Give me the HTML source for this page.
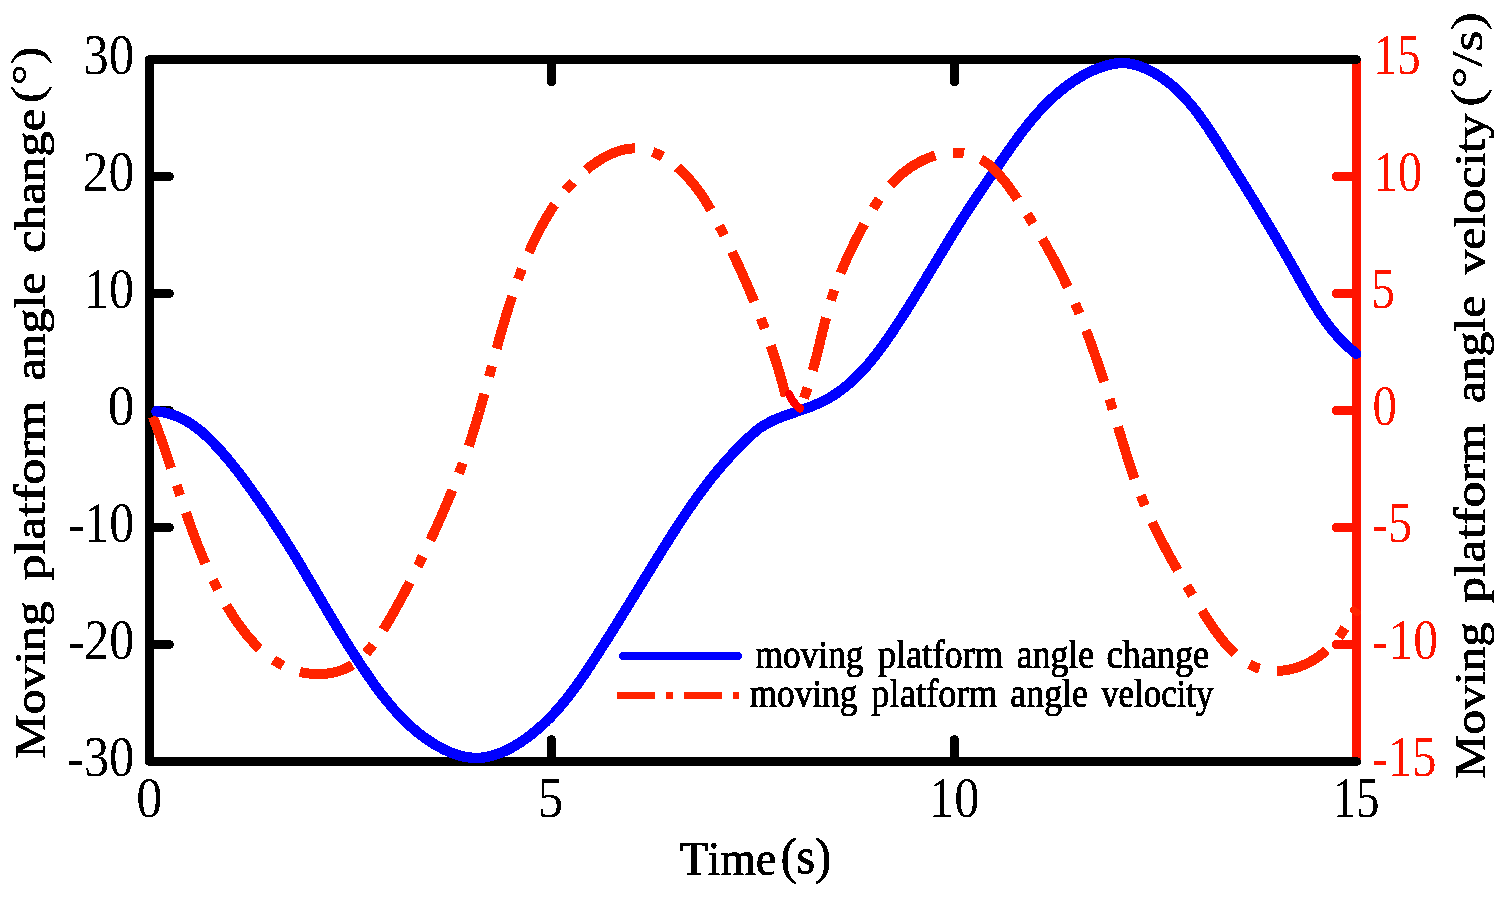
<!DOCTYPE html>
<html><head><meta charset="utf-8"><title>Moving platform angle change and angle velocity</title>
<style>
html,body{margin:0;padding:0;background:#fff;overflow:hidden;}
svg{display:block;}
text{font-family:"Liberation Serif",serif;font-kerning:none;font-variant-ligatures:none;white-space:pre;}
</style></head><body>
<svg width="1511" height="897" viewBox="0 0 1511 897">
<rect width="1511" height="897" fill="#fff"/>
<g stroke="#ff1400" stroke-width="9" stroke-linecap="round" fill="none" shape-rendering="crispEdges">
<path d="M1356.5,59.5 L1356.5,761.5" stroke-linecap="butt"/>
<path d="M1356.5,176.5 L1336.3,176.5"/>
<path d="M1356.5,293.5 L1336.3,293.5"/>
<path d="M1356.5,410.5 L1336.3,410.5"/>
<path d="M1356.5,527.5 L1336.3,527.5"/>
<path d="M1356.5,644.5 L1336.3,644.5"/>
</g>
<g stroke="#000" stroke-width="9" stroke-linecap="round" stroke-linejoin="round" fill="none" shape-rendering="crispEdges">
<path d="M1356.5,761.5 L149.5,761.5 L149.5,59.5 L1356.5,59.5"/>
<path d="M149.5,176.5 L169.5,176.5"/>
<path d="M149.5,293.5 L169.5,293.5"/>
<path d="M149.5,410.5 L169.5,410.5"/>
<path d="M149.5,527.5 L169.5,527.5"/>
<path d="M149.5,644.5 L169.5,644.5"/>
<path d="M551.5,761.5 L551.5,739.5"/>
<path d="M551.5,59.5 L551.5,84.0" stroke-linecap="butt"/>
<path d="M551.5,59.5 L551.5,83.0" stroke-width="7"/>
<path d="M954.5,761.5 L954.5,739.5"/>
<path d="M954.5,59.5 L954.5,84.0" stroke-linecap="butt"/>
<path d="M954.5,59.5 L954.5,83.0" stroke-width="7"/>
</g>
<path d="M151.5,413.5 L152.7,416.4 L153.8,419.4 L155.0,422.3 L156.1,425.3 L157.2,428.2 L158.3,431.2 L159.4,434.2 L160.5,437.2 L161.6,440.2 L162.6,443.1 L163.7,446.1 L164.7,449.2 L165.7,452.2 L166.8,455.2 L167.8,458.2 L168.8,461.2 L169.8,464.2 L170.8,467.3 L171.8,470.3 L172.8,473.3 L173.8,476.4 L174.8,479.4 L175.8,482.4 L176.8,485.5 L177.9,488.5 L178.9,491.5 L179.9,494.6 L180.9,497.6 L181.9,500.7 L182.9,503.7 L183.9,506.7 L185.0,509.8 L186.0,512.8 L187.1,515.8 L188.1,518.9 L189.2,521.9 L190.3,524.9 L191.3,527.9 L192.4,530.9 L193.6,534.0 L194.7,537.0 L195.8,540.0 L197.0,543.0 L198.1,546.0 L199.3,548.9 L200.5,551.9 L201.7,554.9 L203.0,557.9 L204.2,560.8 L205.5,563.8 L206.8,566.7 L208.1,569.7 L209.4,572.6 L210.8,575.5 L212.2,578.4 L213.6,581.3 L215.0,584.2 L216.5,587.1 L218.0,590.0 L219.5,592.8 L221.0,595.7 L222.6,598.5 L224.2,601.3 L225.8,604.2 L227.4,607.0 L229.1,609.7 L230.9,612.5 L232.6,615.3 L234.4,618.0 L236.2,620.7 L238.1,623.4 L239.9,626.0 L241.9,628.6 L243.8,631.2 L245.8,633.7 L247.9,636.2 L249.9,638.6 L252.1,641.0 L254.2,643.3 L256.4,645.6 L258.6,647.8 L260.9,649.9 L263.2,652.0 L265.6,654.0 L268.0,655.9 L270.4,657.7 L272.9,659.5 L275.5,661.2 L278.1,662.8 L280.7,664.3 L283.4,665.7 L286.1,667.0 L288.9,668.2 L291.7,669.3 L294.6,670.3 L297.5,671.2 L300.5,672.0 L303.6,672.7 L306.6,673.2 L309.7,673.6 L312.8,673.9 L316.0,674.1 L319.1,674.1 L322.3,674.0 L325.4,673.8 L328.6,673.4 L331.7,672.9 L334.8,672.2 L337.8,671.4 L340.8,670.4 L343.8,669.3 L346.6,668.0 L349.5,666.6 L352.2,664.9 L354.9,663.2 L357.5,661.2 L360.0,659.1 L362.4,656.9 L364.8,654.5 L367.1,652.0 L369.3,649.4 L371.5,646.8 L373.6,644.0 L375.7,641.3 L377.6,638.4 L379.6,635.5 L381.5,632.6 L383.3,629.7 L385.1,626.8 L386.9,623.9 L388.6,621.1 L390.3,618.2 L391.9,615.3 L393.5,612.5 L395.1,609.6 L396.7,606.8 L398.3,604.0 L399.8,601.2 L401.3,598.4 L402.8,595.6 L404.3,592.8 L405.7,590.1 L407.2,587.3 L408.6,584.6 L410.0,581.8 L411.4,579.1 L412.8,576.3 L414.2,573.5 L415.6,570.8 L416.9,568.0 L418.3,565.3 L419.7,562.5 L421.0,559.7 L422.4,556.9 L423.8,554.1 L425.1,551.3 L426.5,548.5 L427.8,545.6 L429.1,542.8 L430.5,539.9 L431.8,537.1 L433.2,534.2 L434.5,531.3 L435.8,528.4 L437.1,525.5 L438.4,522.6 L439.7,519.7 L441.0,516.8 L442.3,513.9 L443.6,511.0 L444.8,508.0 L446.1,505.1 L447.4,502.1 L448.6,499.2 L449.8,496.2 L451.1,493.2 L452.3,490.3 L453.5,487.3 L454.7,484.3 L455.9,481.3 L457.0,478.3 L458.2,475.3 L459.4,472.3 L460.5,469.3 L461.6,466.3 L462.7,463.2 L463.8,460.2 L464.9,457.2 L466.0,454.2 L467.0,451.1 L468.1,448.1 L469.1,445.1 L470.1,442.0 L471.1,439.0 L472.1,435.9 L473.0,432.9 L474.0,429.8 L474.9,426.8 L475.8,423.7 L476.8,420.6 L477.7,417.6 L478.6,414.5 L479.5,411.5 L480.3,408.4 L481.2,405.3 L482.1,402.3 L482.9,399.2 L483.8,396.1 L484.6,393.1 L485.5,390.0 L486.3,386.9 L487.1,383.9 L488.0,380.8 L488.8,377.7 L489.6,374.6 L490.4,371.6 L491.3,368.5 L492.1,365.4 L492.9,362.4 L493.7,359.3 L494.6,356.2 L495.4,353.2 L496.2,350.1 L497.1,347.1 L497.9,344.0 L498.7,340.9 L499.6,337.9 L500.5,334.8 L501.3,331.8 L502.2,328.7 L503.1,325.7 L504.0,322.6 L504.9,319.6 L505.8,316.6 L506.7,313.5 L507.6,310.5 L508.6,307.5 L509.5,304.5 L510.5,301.4 L511.5,298.4 L512.5,295.4 L513.5,292.4 L514.5,289.4 L515.6,286.4 L516.6,283.4 L517.7,280.4 L518.8,277.4 L519.9,274.4 L521.0,271.5 L522.2,268.5 L523.4,265.5 L524.6,262.6 L525.8,259.6 L527.0,256.7 L528.3,253.7 L529.6,250.8 L530.9,247.8 L532.2,244.9 L533.6,242.0 L535.0,239.1 L536.4,236.2 L537.8,233.3 L539.3,230.5 L540.8,227.6 L542.4,224.8 L543.9,222.0 L545.5,219.2 L547.2,216.4 L548.9,213.6 L550.6,210.9 L552.3,208.2 L554.1,205.5 L556.0,202.9 L557.9,200.3 L559.8,197.7 L561.7,195.1 L563.8,192.6 L565.8,190.1 L567.9,187.7 L570.1,185.3 L572.3,182.9 L574.5,180.6 L576.8,178.3 L579.1,176.0 L581.6,173.8 L584.0,171.7 L586.5,169.6 L589.1,167.5 L591.7,165.5 L594.4,163.6 L597.1,161.8 L599.8,160.0 L602.6,158.3 L605.4,156.7 L608.3,155.3 L611.2,153.9 L614.1,152.7 L617.0,151.6 L619.9,150.7 L622.9,149.9 L625.8,149.2 L628.8,148.8 L631.7,148.5 L634.7,148.4 L637.6,148.5 L640.6,148.8 L643.5,149.3 L646.4,150.0 L649.3,150.8 L652.2,151.8 L655.0,152.9 L657.8,154.2 L660.6,155.6 L663.4,157.2 L666.1,158.9 L668.8,160.7 L671.4,162.6 L674.0,164.6 L676.6,166.7 L679.1,168.9 L681.6,171.2 L684.0,173.6 L686.3,176.0 L688.6,178.4 L690.8,180.9 L693.0,183.5 L695.0,186.1 L697.1,188.7 L699.0,191.4 L700.9,194.0 L702.7,196.7 L704.5,199.4 L706.2,202.1 L707.9,204.9 L709.5,207.7 L711.1,210.4 L712.7,213.2 L714.2,216.0 L715.7,218.8 L717.2,221.7 L718.6,224.5 L720.0,227.3 L721.5,230.2 L722.9,233.0 L724.3,235.9 L725.7,238.7 L727.1,241.6 L728.5,244.4 L729.9,247.3 L731.3,250.2 L732.6,253.0 L734.0,255.9 L735.3,258.8 L736.7,261.7 L738.0,264.6 L739.4,267.4 L740.7,270.3 L742.0,273.2 L743.3,276.1 L744.6,279.0 L745.9,282.0 L747.1,284.9 L748.4,287.8 L749.7,290.7 L750.9,293.6 L752.1,296.6 L753.4,299.5 L754.6,302.4 L755.8,305.4 L757.0,308.3 L758.1,311.3 L759.3,314.3 L760.5,317.2 L761.6,320.2 L762.7,323.2 L763.9,326.1 L765.0,329.1 L766.1,332.1 L767.1,335.1 L768.2,338.1 L769.3,341.1 L770.3,344.1 L771.3,347.1 L772.3,350.2 L773.3,353.2 L774.3,356.2 L775.3,359.3 L776.3,362.3 L777.2,365.4 L778.1,368.4 L779.1,371.5 L780.0,374.6 L780.8,377.6 L781.7,380.7 L782.6,383.8 L783.4,386.9 L784.2,390.0 L785.0,393.1 L785.8,396.2" fill="none" stroke="#ff2400" stroke-width="10" stroke-linejoin="round" shape-rendering="crispEdges" stroke-dasharray="54.5 18 11 18" stroke-dashoffset="-3.5"/>
<path d="M156.4,411.3 L158.8,411.5 L161.2,411.9 L163.5,412.3 L165.8,412.8 L168.1,413.4 L170.3,414.0 L172.5,414.7 L174.7,415.5 L176.8,416.3 L178.9,417.2 L181.0,418.2 L183.0,419.2 L185.0,420.3 L187.0,421.4 L189.0,422.6 L190.9,423.8 L192.8,425.1 L194.7,426.4 L196.5,427.8 L198.3,429.2 L200.1,430.6 L201.9,432.1 L203.6,433.6 L205.4,435.2 L207.1,436.7 L208.8,438.3 L210.4,440.0 L212.1,441.6 L213.7,443.3 L215.3,445.0 L216.9,446.7 L218.5,448.4 L220.0,450.1 L221.6,451.8 L223.1,453.5 L224.6,455.3 L226.1,457.0 L227.6,458.8 L229.1,460.6 L230.6,462.4 L232.0,464.2 L233.4,466.0 L234.9,467.8 L236.3,469.6 L237.7,471.4 L239.1,473.2 L240.5,475.1 L241.9,476.9 L243.3,478.8 L244.7,480.6 L246.0,482.5 L247.4,484.4 L248.8,486.3 L250.1,488.2 L251.5,490.0 L252.8,491.9 L254.2,493.8 L255.5,495.7 L256.9,497.7 L258.2,499.6 L259.6,501.5 L260.9,503.4 L262.2,505.4 L263.6,507.3 L264.9,509.2 L266.2,511.2 L267.5,513.1 L268.8,515.1 L270.2,517.0 L271.5,519.0 L272.8,520.9 L274.0,522.9 L275.3,524.9 L276.6,526.8 L277.9,528.8 L279.2,530.7 L280.4,532.7 L281.7,534.7 L282.9,536.7 L284.2,538.6 L285.4,540.6 L286.7,542.6 L287.9,544.6 L289.1,546.5 L290.3,548.5 L291.6,550.5 L292.8,552.5 L294.0,554.5 L295.2,556.4 L296.4,558.4 L297.6,560.4 L298.8,562.4 L300.0,564.4 L301.2,566.4 L302.3,568.4 L303.5,570.3 L304.7,572.3 L305.9,574.3 L307.1,576.3 L308.2,578.3 L309.4,580.3 L310.6,582.3 L311.8,584.3 L312.9,586.3 L314.1,588.2 L315.3,590.2 L316.4,592.2 L317.6,594.2 L318.8,596.2 L319.9,598.2 L321.1,600.2 L322.3,602.2 L323.4,604.2 L324.6,606.1 L325.8,608.1 L327.0,610.1 L328.1,612.1 L329.3,614.1 L330.5,616.1 L331.7,618.1 L332.8,620.0 L334.0,622.0 L335.2,624.0 L336.4,626.0 L337.6,628.0 L338.8,629.9 L340.0,631.9 L341.2,633.9 L342.4,635.9 L343.6,637.8 L344.8,639.8 L346.0,641.8 L347.3,643.7 L348.5,645.7 L349.7,647.7 L351.0,649.6 L352.2,651.6 L353.5,653.6 L354.7,655.5 L356.0,657.5 L357.2,659.4 L358.5,661.4 L359.8,663.3 L361.1,665.3 L362.4,667.2 L363.7,669.2 L365.0,671.1 L366.3,673.0 L367.6,675.0 L368.9,676.9 L370.3,678.8 L371.6,680.8 L373.0,682.7 L374.3,684.6 L375.7,686.5 L377.1,688.4 L378.5,690.3 L379.9,692.1 L381.3,694.0 L382.8,695.9 L384.2,697.7 L385.7,699.6 L387.2,701.4 L388.7,703.2 L390.2,705.0 L391.7,706.8 L393.2,708.5 L394.8,710.3 L396.3,712.0 L397.9,713.8 L399.5,715.5 L401.1,717.1 L402.8,718.8 L404.4,720.5 L406.1,722.1 L407.8,723.7 L409.5,725.3 L411.2,726.9 L413.0,728.4 L414.7,729.9 L416.5,731.4 L418.3,732.9 L420.2,734.4 L422.0,735.8 L423.9,737.2 L425.8,738.6 L427.8,739.9 L429.7,741.2 L431.7,742.5 L433.7,743.8 L435.7,745.0 L437.7,746.2 L439.8,747.3 L441.9,748.4 L444.0,749.5 L446.1,750.5 L448.2,751.5 L450.4,752.4 L452.6,753.2 L454.7,754.0 L456.9,754.8 L459.1,755.4 L461.3,756.0 L463.5,756.5 L465.7,757.0 L468.0,757.3 L470.2,757.6 L472.4,757.8 L474.7,757.9 L476.9,757.9 L479.1,757.8 L481.4,757.7 L483.6,757.4 L485.8,757.1 L488.1,756.7 L490.3,756.2 L492.5,755.6 L494.7,754.9 L496.9,754.2 L499.1,753.4 L501.3,752.6 L503.4,751.6 L505.6,750.7 L507.7,749.6 L509.9,748.6 L512.0,747.4 L514.1,746.2 L516.1,745.0 L518.2,743.8 L520.2,742.5 L522.2,741.1 L524.2,739.7 L526.1,738.4 L528.1,736.9 L530.0,735.5 L531.9,734.0 L533.7,732.5 L535.5,731.0 L537.3,729.5 L539.1,728.0 L540.9,726.4 L542.6,724.9 L544.3,723.3 L546.0,721.7 L547.6,720.0 L549.3,718.4 L550.9,716.8 L552.5,715.1 L554.1,713.4 L555.6,711.7 L557.2,710.0 L558.7,708.3 L560.2,706.5 L561.7,704.8 L563.1,703.0 L564.6,701.3 L566.0,699.5 L567.4,697.7 L568.9,695.9 L570.3,694.1 L571.6,692.2 L573.0,690.4 L574.4,688.5 L575.7,686.7 L577.1,684.8 L578.4,683.0 L579.7,681.1 L581.0,679.2 L582.4,677.3 L583.7,675.4 L584.9,673.5 L586.2,671.6 L587.5,669.6 L588.8,667.7 L590.1,665.8 L591.3,663.9 L592.6,661.9 L593.9,660.0 L595.1,658.0 L596.4,656.1 L597.7,654.1 L598.9,652.2 L600.2,650.2 L601.4,648.2 L602.7,646.3 L604.0,644.3 L605.2,642.3 L606.5,640.4 L607.7,638.4 L609.0,636.4 L610.2,634.4 L611.4,632.5 L612.7,630.5 L613.9,628.5 L615.2,626.5 L616.4,624.5 L617.7,622.5 L618.9,620.5 L620.1,618.5 L621.4,616.5 L622.6,614.5 L623.8,612.5 L625.1,610.5 L626.3,608.5 L627.5,606.5 L628.8,604.5 L630.0,602.5 L631.2,600.5 L632.5,598.5 L633.7,596.5 L634.9,594.5 L636.2,592.5 L637.4,590.5 L638.6,588.5 L639.8,586.5 L641.1,584.5 L642.3,582.5 L643.5,580.5 L644.7,578.5 L646.0,576.5 L647.2,574.5 L648.4,572.5 L649.7,570.5 L650.9,568.5 L652.1,566.5 L653.3,564.6 L654.5,562.6 L655.8,560.6 L657.0,558.6 L658.2,556.6 L659.4,554.6 L660.7,552.7 L661.9,550.7 L663.1,548.7 L664.4,546.7 L665.6,544.8 L666.8,542.8 L668.1,540.8 L669.3,538.9 L670.5,536.9 L671.8,535.0 L673.0,533.0 L674.3,531.1 L675.5,529.1 L676.8,527.2 L678.0,525.2 L679.3,523.3 L680.6,521.4 L681.8,519.5 L683.1,517.5 L684.4,515.6 L685.7,513.7 L687.0,511.8 L688.3,509.9 L689.6,508.0 L690.9,506.1 L692.2,504.2 L693.5,502.3 L694.9,500.4 L696.2,498.6 L697.5,496.7 L698.9,494.8 L700.2,493.0 L701.6,491.1 L703.0,489.3 L704.4,487.4 L705.8,485.6 L707.2,483.8 L708.6,482.0 L710.0,480.1 L711.4,478.3 L712.9,476.5 L714.3,474.7 L715.8,472.9 L717.2,471.2 L718.7,469.4 L720.2,467.6 L721.7,465.9 L723.2,464.1 L724.8,462.4 L726.3,460.6 L727.9,458.9 L729.4,457.2 L731.0,455.4 L732.6,453.7 L734.2,452.0 L735.8,450.3 L737.4,448.7 L739.1,447.0 L740.7,445.3 L742.4,443.7 L744.1,442.0 L745.8,440.4 L747.5,438.7 L749.2,437.1 L751.0,435.5 L752.7,433.9 L754.5,432.3 L756.3,430.7 L758.0,429.4 L759.8,428.0 L761.7,426.8 L763.6,425.6 L765.6,424.4 L767.6,423.3 L769.6,422.2 L771.7,421.2 L773.7,420.2 L775.8,419.3 L778.0,418.4 L780.1,417.5 L782.3,416.7 L784.4,415.9 L786.6,415.1 L788.8,414.3 L791.1,413.5 L793.3,412.8 L795.5,412.0 L797.7,411.2 L799.9,410.5 L802.2,409.7 L804.4,409.0 L806.6,408.2 L808.8,407.4 L810.9,406.6 L813.1,405.7 L815.2,404.8 L817.4,403.9 L819.5,403.0 L821.5,402.0 L823.6,401.0 L825.6,400.0 L827.6,398.9 L829.6,397.8 L831.5,396.6 L833.4,395.4 L835.3,394.2 L837.2,392.9 L839.0,391.6 L840.9,390.3 L842.7,388.9 L844.4,387.5 L846.2,386.1 L847.9,384.7 L849.7,383.2 L851.4,381.7 L853.0,380.1 L854.7,378.6 L856.3,377.0 L857.9,375.4 L859.5,373.8 L861.1,372.1 L862.7,370.5 L864.2,368.8 L865.8,367.1 L867.3,365.3 L868.8,363.6 L870.3,361.8 L871.7,360.0 L873.2,358.2 L874.6,356.4 L876.1,354.6 L877.5,352.8 L878.9,350.9 L880.3,349.0 L881.7,347.2 L883.0,345.3 L884.4,343.4 L885.7,341.5 L887.1,339.6 L888.4,337.7 L889.7,335.7 L891.1,333.8 L892.4,331.9 L893.7,330.0 L894.9,328.0 L896.2,326.1 L897.5,324.1 L898.8,322.2 L900.0,320.2 L901.3,318.3 L902.5,316.4 L903.8,314.4 L905.0,312.5 L906.3,310.5 L907.5,308.6 L908.7,306.6 L910.0,304.7 L911.2,302.7 L912.4,300.7 L913.6,298.8 L914.8,296.8 L916.0,294.9 L917.2,292.9 L918.4,291.0 L919.6,289.0 L920.8,287.0 L922.0,285.1 L923.2,283.1 L924.4,281.2 L925.6,279.2 L926.7,277.2 L927.9,275.3 L929.1,273.3 L930.3,271.4 L931.5,269.4 L932.6,267.4 L933.8,265.5 L935.0,263.5 L936.2,261.6 L937.4,259.6 L938.5,257.6 L939.7,255.7 L940.9,253.7 L942.1,251.8 L943.3,249.8 L944.5,247.8 L945.6,245.9 L946.8,243.9 L948.0,242.0 L949.2,240.0 L950.4,238.1 L951.6,236.1 L952.8,234.2 L954.0,232.2 L955.2,230.3 L956.4,228.3 L957.7,226.4 L958.9,224.4 L960.1,222.5 L961.3,220.5 L962.6,218.6 L963.8,216.6 L965.0,214.7 L966.3,212.8 L967.5,210.8 L968.8,208.9 L970.1,206.9 L971.3,205.0 L972.6,203.1 L973.9,201.1 L975.2,199.2 L976.5,197.3 L977.8,195.4 L979.1,193.4 L980.4,191.5 L981.7,189.6 L983.0,187.7 L984.3,185.8 L985.6,183.9 L986.9,181.9 L988.2,180.0 L989.5,178.1 L990.8,176.2 L992.2,174.3 L993.5,172.4 L994.8,170.5 L996.1,168.6 L997.4,166.7 L998.8,164.8 L1000.1,162.9 L1001.4,161.0 L1002.7,159.1 L1004.0,157.2 L1005.3,155.3 L1006.7,153.5 L1008.0,151.6 L1009.3,149.7 L1010.6,147.8 L1011.9,146.0 L1013.3,144.1 L1014.6,142.2 L1015.9,140.4 L1017.3,138.5 L1018.6,136.7 L1020.0,134.9 L1021.3,133.0 L1022.7,131.2 L1024.1,129.4 L1025.5,127.6 L1026.9,125.8 L1028.3,124.0 L1029.8,122.3 L1031.2,120.5 L1032.7,118.8 L1034.1,117.0 L1035.6,115.3 L1037.1,113.6 L1038.6,111.9 L1040.2,110.2 L1041.7,108.5 L1043.3,106.8 L1044.9,105.2 L1046.5,103.6 L1048.2,101.9 L1049.8,100.3 L1051.5,98.7 L1053.2,97.2 L1055.0,95.6 L1056.7,94.1 L1058.5,92.6 L1060.3,91.1 L1062.1,89.6 L1064.0,88.1 L1065.8,86.7 L1067.7,85.3 L1069.6,83.9 L1071.6,82.6 L1073.5,81.2 L1075.5,80.0 L1077.5,78.7 L1079.5,77.5 L1081.5,76.3 L1083.6,75.1 L1085.6,74.0 L1087.7,73.0 L1089.8,71.9 L1091.9,70.9 L1094.0,70.0 L1096.2,69.1 L1098.3,68.3 L1100.5,67.5 L1102.6,66.7 L1104.8,66.0 L1107.0,65.4 L1109.2,64.8 L1111.4,64.3 L1113.6,63.9 L1115.8,63.5 L1118.0,63.3 L1120.3,63.1 L1122.5,63.1 L1124.7,63.1 L1127.0,63.3 L1129.2,63.6 L1131.5,64.0 L1133.7,64.5 L1135.9,65.1 L1138.1,65.8 L1140.3,66.5 L1142.5,67.4 L1144.7,68.3 L1146.8,69.2 L1148.9,70.2 L1151.0,71.2 L1153.0,72.3 L1155.0,73.5 L1157.0,74.6 L1158.9,75.8 L1160.9,77.1 L1162.7,78.3 L1164.6,79.6 L1166.4,81.0 L1168.2,82.4 L1170.0,83.8 L1171.7,85.2 L1173.5,86.7 L1175.2,88.2 L1176.8,89.8 L1178.5,91.3 L1180.1,92.9 L1181.7,94.5 L1183.3,96.2 L1184.9,97.8 L1186.4,99.5 L1187.9,101.3 L1189.4,103.0 L1190.9,104.7 L1192.4,106.5 L1193.8,108.3 L1195.3,110.1 L1196.7,112.0 L1198.1,113.8 L1199.5,115.7 L1200.8,117.6 L1202.2,119.5 L1203.6,121.4 L1204.9,123.3 L1206.2,125.2 L1207.5,127.1 L1208.8,129.1 L1210.1,131.0 L1211.4,133.0 L1212.7,135.0 L1214.0,136.9 L1215.3,138.9 L1216.5,140.9 L1217.8,142.9 L1219.0,144.8 L1220.3,146.8 L1221.5,148.8 L1222.8,150.8 L1224.0,152.8 L1225.2,154.7 L1226.5,156.7 L1227.7,158.7 L1229.0,160.6 L1230.2,162.6 L1231.4,164.6 L1232.6,166.5 L1233.9,168.5 L1235.1,170.5 L1236.3,172.4 L1237.5,174.4 L1238.8,176.3 L1240.0,178.3 L1241.2,180.3 L1242.4,182.2 L1243.6,184.2 L1244.8,186.1 L1246.0,188.1 L1247.2,190.0 L1248.4,192.0 L1249.6,193.9 L1250.8,195.9 L1252.0,197.8 L1253.2,199.8 L1254.4,201.7 L1255.6,203.7 L1256.8,205.7 L1258.0,207.6 L1259.2,209.6 L1260.3,211.5 L1261.5,213.5 L1262.7,215.4 L1263.9,217.4 L1265.1,219.3 L1266.2,221.3 L1267.4,223.3 L1268.6,225.2 L1269.7,227.2 L1270.9,229.2 L1272.1,231.1 L1273.2,233.1 L1274.4,235.1 L1275.6,237.0 L1276.7,239.0 L1277.9,241.0 L1279.0,243.0 L1280.2,244.9 L1281.3,246.9 L1282.5,248.9 L1283.6,250.9 L1284.8,252.9 L1285.9,254.9 L1287.1,256.9 L1288.2,258.9 L1289.3,260.9 L1290.5,262.9 L1291.6,264.9 L1292.7,266.9 L1293.9,268.9 L1295.0,270.9 L1296.1,272.9 L1297.2,274.9 L1298.4,277.0 L1299.5,279.0 L1300.6,281.0 L1301.8,283.0 L1302.9,285.1 L1304.0,287.1 L1305.2,289.1 L1306.3,291.1 L1307.5,293.1 L1308.7,295.1 L1309.8,297.1 L1311.0,299.1 L1312.2,301.1 L1313.4,303.1 L1314.6,305.0 L1315.8,307.0 L1317.1,309.0 L1318.3,310.9 L1319.6,312.8 L1320.9,314.7 L1322.2,316.6 L1323.5,318.5 L1324.8,320.4 L1326.1,322.3 L1327.5,324.1 L1328.9,325.9 L1330.3,327.7 L1331.7,329.5 L1333.2,331.3 L1334.7,333.0 L1336.2,334.8 L1337.7,336.5 L1339.2,338.2 L1340.8,339.8 L1342.4,341.5 L1344.0,343.1 L1345.7,344.7 L1347.4,346.2 L1349.1,347.8 L1350.8,349.3 L1352.6,350.8 L1354.4,352.2 L1356.3,353.7" fill="none" stroke="#0000ff" stroke-width="10.4" stroke-linejoin="round" stroke-linecap="round" shape-rendering="crispEdges"/>
<path d="M799.0,410.3 L800.0,407.9 L801.0,405.5 L802.0,403.1 L803.0,400.7 L803.9,398.3 L804.8,395.8 L805.7,393.4 L806.5,390.9 L807.4,388.4 L808.2,386.0 L809.0,383.5 L809.7,381.0 L810.5,378.5 L811.2,376.0 L811.9,373.5 L812.6,370.9 L813.3,368.4 L814.0,365.9 L814.7,363.3 L815.3,360.8 L816.0,358.3 L816.6,355.7 L817.3,353.2 L817.9,350.6 L818.5,348.0 L819.2,345.5 L819.8,342.9 L820.4,340.4 L821.0,337.8 L821.7,335.3 L822.3,332.7 L822.9,330.2 L823.6,327.6 L824.2,325.1 L824.8,322.5 L825.5,320.0 L826.2,317.4 L826.8,314.9 L827.5,312.4 L828.2,309.9 L828.9,307.4 L829.6,304.8 L830.4,302.3 L831.1,299.9 L831.9,297.4 L832.7,294.9 L833.5,292.4 L834.4,290.0 L835.2,287.5 L836.1,285.1 L837.0,282.6 L837.9,280.2 L838.8,277.8 L839.8,275.4 L840.7,273.0 L841.7,270.6 L842.7,268.2 L843.7,265.8 L844.7,263.4 L845.8,261.1 L846.8,258.7 L847.9,256.3 L849.0,254.0 L850.1,251.6 L851.3,249.3 L852.4,246.9 L853.6,244.6 L854.7,242.2 L855.9,239.9 L857.1,237.5 L858.3,235.2 L859.5,232.9 L860.8,230.5 L862.0,228.2 L863.3,225.9 L864.5,223.5 L865.8,221.2 L867.1,218.9 L868.4,216.6 L869.8,214.2 L871.1,211.9 L872.5,209.6 L873.9,207.4 L875.3,205.1 L876.8,202.9 L878.3,200.6 L879.8,198.4 L881.3,196.2 L882.9,194.1 L884.6,192.0 L886.2,189.9 L888.0,187.8 L889.7,185.8 L891.5,183.8 L893.4,181.9 L895.3,180.0 L897.2,178.1 L899.2,176.3 L901.2,174.5 L903.3,172.8 L905.4,171.2 L907.6,169.6 L909.7,168.0 L911.9,166.5 L914.2,165.1 L916.5,163.7 L918.7,162.5 L921.1,161.2 L923.4,160.1 L925.8,159.0 L928.2,158.0 L930.6,157.1 L933.0,156.2 L935.5,155.4 L937.9,154.8 L940.4,154.2 L942.9,153.7 L945.4,153.2 L947.8,152.9 L950.3,152.7 L952.8,152.6 L955.3,152.5 L957.7,152.6 L960.2,152.8 L962.6,153.0 L965.0,153.4 L967.4,153.9 L969.8,154.5 L972.1,155.3 L974.4,156.1 L976.7,157.1 L978.9,158.2 L981.1,159.4 L983.2,160.7 L985.3,162.1 L987.4,163.6 L989.4,165.2 L991.4,167.0 L993.3,168.8 L995.2,170.6 L997.1,172.6 L999.0,174.6 L1000.8,176.7 L1002.6,178.8 L1004.4,180.9 L1006.1,183.2 L1007.8,185.4 L1009.5,187.7 L1011.1,190.0 L1012.8,192.3 L1014.4,194.6 L1016.0,196.9 L1017.5,199.3 L1019.1,201.6 L1020.6,203.9 L1022.1,206.2 L1023.6,208.5 L1025.1,210.8 L1026.5,213.1 L1028.0,215.4 L1029.4,217.7 L1030.8,220.0 L1032.3,222.2 L1033.7,224.5 L1035.0,226.8 L1036.4,229.1 L1037.8,231.3 L1039.2,233.6 L1040.5,235.9 L1041.8,238.1 L1043.2,240.4 L1044.5,242.7 L1045.8,244.9 L1047.1,247.2 L1048.3,249.5 L1049.6,251.7 L1050.9,254.0 L1052.1,256.3 L1053.4,258.5 L1054.6,260.8 L1055.8,263.1 L1057.0,265.4 L1058.2,267.7 L1059.4,270.0 L1060.5,272.2 L1061.7,274.5 L1062.9,276.9 L1064.0,279.2 L1065.1,281.5 L1066.2,283.8 L1067.3,286.1 L1068.4,288.5 L1069.5,290.8 L1070.6,293.2 L1071.7,295.5 L1072.7,297.9 L1073.8,300.2 L1074.8,302.6 L1075.8,305.0 L1076.8,307.4 L1077.9,309.8 L1078.8,312.2 L1079.8,314.6 L1080.8,317.0 L1081.8,319.4 L1082.7,321.8 L1083.7,324.2 L1084.7,326.7 L1085.6,329.1 L1086.5,331.5 L1087.4,334.0 L1088.4,336.4 L1089.3,338.9 L1090.2,341.3 L1091.1,343.8 L1092.0,346.2 L1092.8,348.7 L1093.7,351.2 L1094.6,353.7 L1095.4,356.1 L1096.3,358.6 L1097.1,361.1 L1098.0,363.6 L1098.8,366.1 L1099.7,368.6 L1100.5,371.0 L1101.3,373.5 L1102.1,376.0 L1103.0,378.5 L1103.8,381.0 L1104.6,383.5 L1105.4,386.0 L1106.2,388.5 L1107.0,391.0 L1107.8,393.5 L1108.5,396.1 L1109.3,398.6 L1110.1,401.1 L1110.9,403.6 L1111.7,406.1 L1112.4,408.6 L1113.2,411.1 L1114.0,413.6 L1114.8,416.1 L1115.5,418.6 L1116.3,421.2 L1117.0,423.7 L1117.8,426.2 L1118.6,428.7 L1119.3,431.2 L1120.1,433.7 L1120.9,436.2 L1121.6,438.7 L1122.4,441.2 L1123.1,443.7 L1123.9,446.2 L1124.7,448.7 L1125.5,451.2 L1126.2,453.7 L1127.0,456.2 L1127.8,458.7 L1128.6,461.2 L1129.4,463.7 L1130.2,466.1 L1131.1,468.6 L1131.9,471.1 L1132.7,473.6 L1133.6,476.0 L1134.4,478.5 L1135.3,481.0 L1136.2,483.4 L1137.1,485.9 L1138.0,488.3 L1138.9,490.8 L1139.9,493.2 L1140.8,495.7 L1141.8,498.1 L1142.8,500.5 L1143.8,502.9 L1144.8,505.4 L1145.8,507.8 L1146.9,510.2 L1147.9,512.6 L1149.0,515.0 L1150.1,517.4 L1151.2,519.8 L1152.3,522.2 L1153.4,524.5 L1154.5,526.9 L1155.7,529.3 L1156.8,531.6 L1158.0,534.0 L1159.2,536.3 L1160.4,538.6 L1161.6,541.0 L1162.8,543.3 L1164.0,545.6 L1165.2,547.9 L1166.5,550.2 L1167.7,552.5 L1168.9,554.8 L1170.2,557.1 L1171.5,559.4 L1172.7,561.6 L1174.0,563.9 L1175.3,566.1 L1176.5,568.3 L1177.8,570.6 L1179.1,572.8 L1180.4,575.0 L1181.7,577.2 L1183.0,579.4 L1184.3,581.6 L1185.6,583.8 L1186.9,586.0 L1188.2,588.2 L1189.6,590.4 L1190.9,592.6 L1192.3,594.9 L1193.6,597.1 L1195.0,599.3 L1196.4,601.6 L1197.8,603.9 L1199.2,606.2 L1200.7,608.5 L1202.1,610.8 L1203.6,613.1 L1205.1,615.5 L1206.6,617.8 L1208.1,620.2 L1209.7,622.5 L1211.3,624.8 L1212.8,627.2 L1214.5,629.5 L1216.1,631.8 L1217.7,634.1 L1219.4,636.3 L1221.1,638.5 L1222.9,640.7 L1224.6,642.8 L1226.4,644.9 L1228.2,646.9 L1230.1,648.9 L1232.0,650.8 L1233.9,652.7 L1235.8,654.5 L1237.8,656.2 L1239.8,657.9 L1241.8,659.4 L1243.9,660.9 L1246.0,662.3 L1248.1,663.6 L1250.3,664.8 L1252.5,665.9 L1254.8,666.9 L1257.1,667.8 L1259.4,668.5 L1261.8,669.2 L1264.2,669.7 L1266.6,670.2 L1269.0,670.5 L1271.5,670.8 L1274.0,670.9 L1276.5,670.9 L1279.0,670.8 L1281.5,670.7 L1284.1,670.4 L1286.6,670.0 L1289.1,669.6 L1291.6,669.0 L1294.2,668.3 L1296.7,667.6 L1299.2,666.7 L1301.6,665.8 L1304.1,664.8 L1306.5,663.7 L1309.0,662.4 L1311.4,661.2 L1313.7,659.8 L1316.0,658.3 L1318.3,656.8 L1320.6,655.2 L1322.8,653.5 L1324.9,651.7 L1327.0,649.8 L1329.1,647.9 L1331.1,645.9 L1333.0,643.8 L1334.9,641.7 L1336.7,639.5 L1338.4,637.3 L1340.1,635.1 L1341.7,632.9 L1343.2,630.6 L1344.6,628.4 L1346.0,626.1 L1347.2,623.9 L1348.4,621.7 L1349.5,619.5" fill="none" stroke="#ff2400" stroke-width="10" stroke-linejoin="round" shape-rendering="crispEdges" stroke-dasharray="54.5 18 11 18" stroke-dashoffset="59.4"/>
<path d="M789,394 Q792.5,402.5 800,408.5" fill="none" stroke="#ff0000" stroke-width="8" stroke-linecap="round" shape-rendering="crispEdges"/>
<defs><filter id="bin" x="0" y="0" width="1511" height="897" filterUnits="userSpaceOnUse" color-interpolation-filters="sRGB"><feComponentTransfer><feFuncA type="discrete" tableValues="0 1"/></feComponentTransfer></filter></defs>
<g filter="url(#bin)">
<text transform="translate(83.36,74.30) scale(0.8790,1.0000)" font-size="58" fill="#000">30</text>
<text transform="translate(82.42,191.30) scale(0.8959,1.0000)" font-size="58" fill="#000">20</text>
<text transform="translate(84.11,308.30) scale(0.8620,1.0000)" font-size="58" fill="#000">10</text>
<text transform="translate(107.66,425.30) scale(0.9234,1.0000)" font-size="58" fill="#000">0</text>
<text transform="translate(67.65,542.30) scale(0.8595,1.0000)" font-size="58" fill="#000">-10</text>
<text transform="translate(67.65,659.30) scale(0.8595,1.0000)" font-size="58" fill="#000">-20</text>
<text transform="translate(67.13,776.30) scale(0.8691,1.0000)" font-size="58" fill="#000">-30</text>
<text transform="translate(136.31,817.30) scale(0.9031,1.0000)" font-size="58" fill="#000">0</text>
<text transform="translate(537.74,817.30) scale(0.8774,1.0000)" font-size="58" fill="#000">5</text>
<text transform="translate(929.08,817.30) scale(0.8680,1.0000)" font-size="58" fill="#000">10</text>
<text transform="translate(1333.11,817.30) scale(0.8018,1.0000)" font-size="58" fill="#000">15</text>
<text transform="translate(1373.34,74.30) scale(0.8156,1.0000)" font-size="58" fill="#ff1400">15</text>
<text transform="translate(1373.42,191.30) scale(0.8403,1.0000)" font-size="58" fill="#ff1400">10</text>
<text transform="translate(1371.49,308.30) scale(0.8046,1.0000)" font-size="58" fill="#ff1400">5</text>
<text transform="translate(1372.53,425.30) scale(0.8461,1.0000)" font-size="58" fill="#ff1400">0</text>
<text transform="translate(1371.92,542.30) scale(0.8269,1.0000)" font-size="58" fill="#ff1400">-5</text>
<text transform="translate(1371.86,659.30) scale(0.8567,1.0000)" font-size="58" fill="#ff1400">-10</text>
<text transform="translate(1371.90,776.30) scale(0.8341,1.0000)" font-size="58" fill="#ff1400">-15</text>
<text fill="#000"><tspan x="679.90" y="875.00" font-size="48.8" textLength="96.47" lengthAdjust="spacingAndGlyphs" stroke="#000" stroke-width="0.9" stroke-linejoin="round">Time</tspan><tspan x="780.73" y="872.70" font-size="50.75" textLength="50.35" lengthAdjust="spacingAndGlyphs" stroke="#000" stroke-width="0.9" stroke-linejoin="round">(s)</tspan></text>
<text transform="rotate(-90)" fill="#000"><tspan x="-758.42" y="44.80" font-size="43.5" textLength="157.15" lengthAdjust="spacingAndGlyphs" stroke="#000" stroke-width="0.9" stroke-linejoin="round">Moving</tspan> <tspan x="-580.40" y="44.80" font-size="43.5" textLength="179.78" lengthAdjust="spacingAndGlyphs" stroke="#000" stroke-width="0.9" stroke-linejoin="round">platform</tspan> <tspan x="-380.64" y="44.80" font-size="43.5" textLength="108.05" lengthAdjust="spacingAndGlyphs" stroke="#000" stroke-width="0.9" stroke-linejoin="round">angle</tspan> <tspan x="-252.91" y="44.80" font-size="43.5" textLength="144.25" lengthAdjust="spacingAndGlyphs" stroke="#000" stroke-width="0.9" stroke-linejoin="round">change</tspan><tspan x="-103.29" y="42.30" font-size="43.5" textLength="56.68" lengthAdjust="spacingAndGlyphs" stroke="#000" stroke-width="0.35" stroke-linejoin="round">(°)</tspan></text>
<text transform="rotate(-90)" fill="#000"><tspan x="-778.41" y="1484.80" font-size="43.5" textLength="156.44" lengthAdjust="spacingAndGlyphs" stroke="#000" stroke-width="0.9" stroke-linejoin="round">Moving</tspan> <tspan x="-603.10" y="1484.80" font-size="43.5" textLength="179.68" lengthAdjust="spacingAndGlyphs" stroke="#000" stroke-width="0.9" stroke-linejoin="round">platform</tspan> <tspan x="-403.13" y="1484.80" font-size="43.5" textLength="107.23" lengthAdjust="spacingAndGlyphs" stroke="#000" stroke-width="0.9" stroke-linejoin="round">angle</tspan> <tspan x="-274.68" y="1484.80" font-size="43.5" textLength="160.76" lengthAdjust="spacingAndGlyphs" stroke="#000" stroke-width="0.9" stroke-linejoin="round">velocity</tspan><tspan x="-106.65" y="1482.30" font-size="43.5" textLength="94.60" lengthAdjust="spacingAndGlyphs" stroke="#000" stroke-width="0.35" stroke-linejoin="round">(°/s)</tspan></text>
<text fill="#000"><tspan x="755.35" y="667.70" font-size="40.5" textLength="108.23" lengthAdjust="spacingAndGlyphs" stroke="#000" stroke-width="0.9" stroke-linejoin="round">moving</tspan> <tspan x="878.02" y="667.70" font-size="40.5" textLength="124.95" lengthAdjust="spacingAndGlyphs" stroke="#000" stroke-width="0.9" stroke-linejoin="round">platform</tspan> <tspan x="1016.84" y="667.70" font-size="40.5" textLength="77.30" lengthAdjust="spacingAndGlyphs" stroke="#000" stroke-width="0.9" stroke-linejoin="round">angle</tspan> <tspan x="1106.42" y="667.70" font-size="40.5" textLength="102.73" lengthAdjust="spacingAndGlyphs" stroke="#000" stroke-width="0.9" stroke-linejoin="round">change</tspan></text>
<text fill="#000"><tspan x="749.55" y="706.90" font-size="40.5" textLength="107.83" lengthAdjust="spacingAndGlyphs" stroke="#000" stroke-width="0.9" stroke-linejoin="round">moving</tspan> <tspan x="871.32" y="706.90" font-size="40.5" textLength="125.75" lengthAdjust="spacingAndGlyphs" stroke="#000" stroke-width="0.9" stroke-linejoin="round">platform</tspan> <tspan x="1010.24" y="706.90" font-size="40.5" textLength="77.81" lengthAdjust="spacingAndGlyphs" stroke="#000" stroke-width="0.9" stroke-linejoin="round">angle</tspan> <tspan x="1101.19" y="706.90" font-size="40.5" textLength="112.16" lengthAdjust="spacingAndGlyphs" stroke="#000" stroke-width="0.9" stroke-linejoin="round">velocity</tspan></text>
</g>
<path d="M623,656.2 L737.8,656.2" stroke="#0000ff" stroke-width="8" stroke-linecap="round" fill="none" shape-rendering="crispEdges"/>
<path d="M617.1,695.5 L739.2,695.5" stroke="#ff2400" stroke-width="7.5" stroke-dasharray="38 11 7.3 11" fill="none" shape-rendering="crispEdges"/>
<path d="M1353.2,609.8 L1357.3,612.6" stroke="#ff2400" stroke-width="7" stroke-linecap="round" fill="none" shape-rendering="crispEdges"/>
</svg></body></html>
